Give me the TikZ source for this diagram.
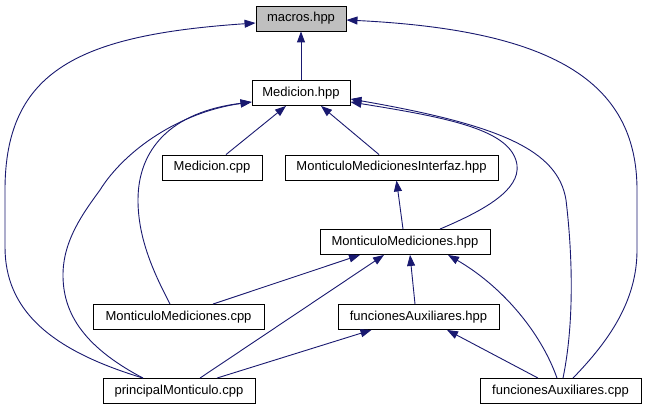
\documentclass[tikz,border=0pt]{standalone}
\usepackage{fontspec}
\setmainfont{Liberation Sans}
\usetikzlibrary{arrows.meta,calc}
\definecolor{edgeblue}{HTML}{191970}
\definecolor{boxgray}{HTML}{BFBFBF}
\begin{document}
\begin{tikzpicture}[x=1pt,y=-1pt,
  box/.style={draw=black, line width=0.9pt, rectangle, minimum height=25pt, inner sep=0pt,
    font=\fontsize{13}{15}\selectfont},
  edge/.style={draw=edgeblue, line width=0.9pt, -{Triangle[length=11pt,width=8pt]}}]
\fill[white] (0,0) rectangle (647,411);
\useasboundingbox (0,0) rectangle (647,411);
% nodes
\node[box, fill=boxgray, minimum width=90pt] (macros) at (301,18.5) {macros.hpp};
\node[box, minimum width=98pt] (mhpp) at (301,93) {Medicion.hpp};
\node[box, minimum width=100pt] (mcpp) at (212,167.5) {Medicion.cpp};
\node[box, minimum width=213pt] (mmi) at (391.5,167.5) {MonticuloMedicionesInterfaz.hpp};
\node[box, minimum width=170pt] (mmhpp) at (405,242) {MonticuloMediciones.hpp};
\node[box, minimum width=171pt] (mmcpp) at (178.5,317) {MonticuloMediciones.cpp};
\node[box, minimum width=161pt] (fahpp) at (418.5,317) {funcionesAuxiliares.hpp};
\node[box, minimum width=152pt] (pm) at (179,391) {principalMonticulo.cpp};
\node[box, minimum width=161pt] (facpp) at (560.5,391) {funcionesAuxiliares.cpp};
% edges
\draw[edge] (mhpp.north) -- (macros.south);
\draw[edge] ($(pm.north)+(-36,0)$) .. controls (50,350) and (5,310) .. (5,247)
  -- (5,190) .. controls (5,70) and (80,35) .. ($(macros.west)+(0,4.5)$);
\draw[edge] ($(facpp.north)+(12.5,0)$) .. controls (610,340) and (637,300) .. (637,250)
  -- (637,190) .. controls (637,80) and (550,30) .. ($(macros.east)+(0,1.5)$);
\draw[edge] ($(mcpp.north)+(14,0)$) -- ($(mhpp.south)+(-15,0)$);
\draw[edge] ($(mmi.north)+(-12.5,0)$) -- ($(mhpp.south)+(20,0)$);
\draw[edge] ($(mmcpp.north)+(-8.5,0)$) .. controls (155,275) and (138,240) .. (138,200)
  .. controls (138,150) and (170,112) .. ($(mhpp.west)+(0,9)$);
\draw[edge] ($(pm.north)+(-36,0)$) .. controls (80,345) and (63,310) .. (63,275)
  .. controls (63,240) and (84,212) .. (100,190)
  .. controls (125,150) and (180,112) .. ($(mhpp.west)+(0,9)$);
\draw[edge] ($(mmhpp.north)+(35,0)$) .. controls (485,210) and (520,190) .. (517,165)
  .. controls (512,130) and (450,118) .. ($(mhpp.east)+(0,9)$);
\draw[edge] ($(facpp.north)+(2.5,0)$) .. controls (575,320) and (572,250) .. (566,200)
  .. controls (558,150) and (500,125) .. ($(mhpp.east)+(0,6)$);
\draw[edge] ($(facpp.north)+(-3.5,0)$) .. controls (540,330) and (500,285) .. ($(mmhpp.south)+(43,0)$);
\draw[edge] ($(fahpp.north)+(-3.5,0)$) -- ($(mmhpp.south)+(5,0)$);
\draw[edge] ($(mmcpp.north)+(34.5,0)$) -- ($(mmhpp.south)+(-45,0)$);
\draw[edge] ($(pm.north)+(21,0)$) -- ($(mmhpp.south)+(-21,0)$);
\draw[edge] ($(pm.north)+(38,0)$) -- ($(fahpp.south)+(-47,0)$);
\draw[edge] ($(facpp.north)+(-22.5,0)$) -- ($(fahpp.south)+(28.5,0)$);
\draw[edge] ($(mmhpp.north)+(-2,0)$) -- ($(mmi.south)+(5,0)$);
\end{tikzpicture}
\end{document}
